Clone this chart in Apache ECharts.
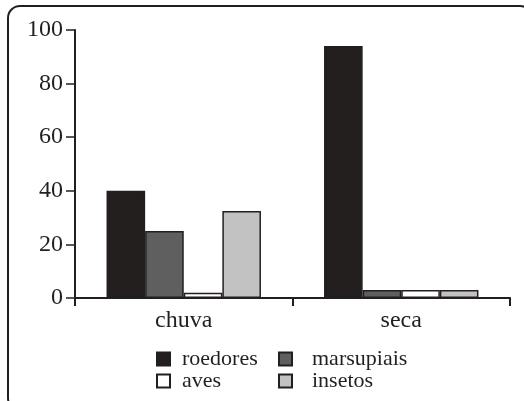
<!DOCTYPE html>
<html>
<head>
<meta charset="utf-8">
<script src="https://cdn.jsdelivr.net/npm/echarts@6/dist/echarts.min.js"></script>
<style>
  html, body { margin: 0; padding: 0; background: #fff; }
  #chart { width: 524px; height: 401px; }
</style>
</head>
<body>
<div id="chart"></div>
<script>
var categories = ['chuva', 'seca'];
var roedores = [40, 94];
var marsupiais = [25, 3];
var aves = [2, 3];
var insetos = [32.5, 3];
var yTicks = [0, 20, 40, 60, 80, 100];

var ink = '#231f20';
var serif = 'Liberation Serif';

var chart = echarts.init(document.getElementById('chart'), null, {
  renderer: 'canvas'
});

function bar(name, data, color) {
  return {
    name: name,
    type: 'bar',
    data: data,
    barGap: '0%',
    barCategoryGap: '29%',
    itemStyle: {
      color: color,
      borderColor: ink,
      borderWidth: 1.5
    }
  };
}

var legendText = {
  color: ink,
  fontFamily: serif,
  fontSize: 22
};

var option = {
  animation: false,
  backgroundColor: '#fff',
  graphic: [
    {
      type: 'rect',
      shape: { x: 8, y: 6, width: 524, height: 404, r: 12 },
      style: { fill: 'none', stroke: ink, lineWidth: 2 },
      silent: true
    }
  ],
  grid: {
    left: 75,
    right: 14,
    top: 30,
    bottom: 103
  },
  legend: [
    {
      data: ['roedores', 'aves'],
      orient: 'vertical',
      left: 151,
      top: 343,
      icon: 'rect',
      itemWidth: 13,
      itemHeight: 13,
      itemGap: 0,
      textStyle: Object.assign({ padding: [0, 0, 0, 7] }, legendText)
    },
    {
      data: ['marsupiais', 'insetos'],
      orient: 'vertical',
      left: 273,
      top: 343,
      icon: 'rect',
      itemWidth: 13,
      itemHeight: 13,
      itemGap: 0,
      textStyle: Object.assign({ padding: [0, 0, 0, 15] }, legendText)
    }
  ],
  xAxis: {
    type: 'category',
    data: categories,
    axisLine: { lineStyle: { color: ink, width: 2 } },
    axisTick: { show: true, length: 8, lineStyle: { color: ink, width: 2 } },
    axisLabel: {
      color: ink,
      fontFamily: serif,
      fontSize: 24,
      margin: 11
    }
  },
  yAxis: {
    type: 'value',
    min: yTicks[0],
    max: yTicks[yTicks.length - 1],
    interval: 20,
    axisLine: { show: true, lineStyle: { color: ink, width: 2 } },
    axisTick: { show: true, length: 9, lineStyle: { color: ink, width: 1.5 } },
    splitLine: { show: false },
    axisLabel: {
      color: ink,
      fontFamily: serif,
      fontSize: 24,
      margin: 12
    }
  },
  series: [
    bar('roedores', roedores, '#231f1e'),
    bar('marsupiais', marsupiais, '#5f5f5f'),
    bar('aves', aves, '#ffffff'),
    bar('insetos', insetos, '#c2c2c2')
  ]
};

chart.setOption(option);
window.addEventListener('resize', chart.resize);
</script>
</body>
</html>
